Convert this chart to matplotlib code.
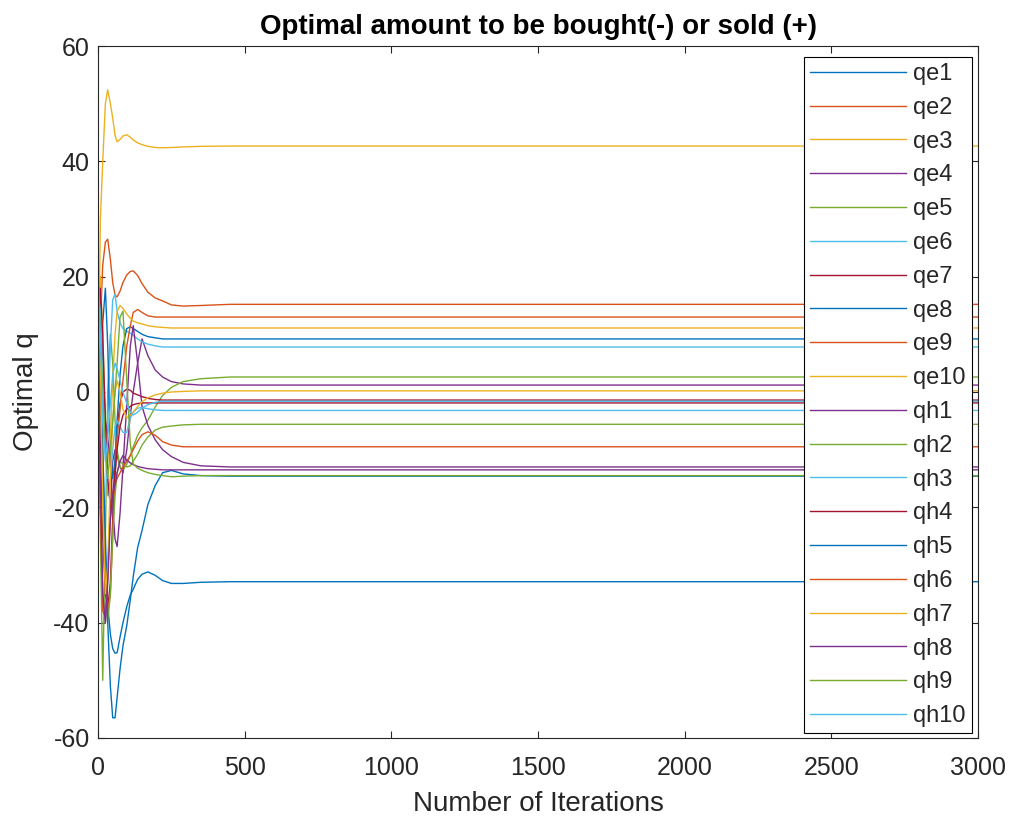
import matplotlib
matplotlib.use("Agg")
import matplotlib.pyplot as plt

plt.rcParams['font.family'] = ['Liberation Sans', 'DejaVu Sans']
plt.rcParams['axes.unicode_minus'] = False

iterations = [0, 8, 16, 25, 33, 42, 50, 58, 65, 75, 85, 98, 110, 120,
              135, 150, 170, 195, 220, 250, 290, 350, 450, 3000]

qe1 = [15, 0, -15, -28, -37, -42, -44.5, -45.3, -45.2, -42.5, -40, -37.2, -35.2, -34.2,
       -32.5, -31.6, -31.2, -31.8, -32.7, -33.2, -33.2, -33.0, -32.9, -32.9]
qe2 = [0, 12, 22, 26, 26.5, 23, 19, 16.8, 16.5, 17.5, 19, 20.3, 20.9, 21,
       20.2, 18.8, 17.3, 16.3, 15.8, 15.1, 14.9, 15.0, 15.2, 15.2]
qe3 = [-1, 30, 40, 50, 52.4, 50, 47.5, 44.5, 43.4, 43.8, 44.4, 44.6, 44.2, 43.7,
       43.2, 42.9, 42.6, 42.4, 42.35, 42.4, 42.5, 42.6, 42.65, 42.65]
qe4 = [-5, -20, -35, -40, -32, -20, -12, -10, -11, -13, -14, -10, -4, 0,
       5, 9.2, 6.3, 3.8, 2.6, 1.8, 1.4, 1.2, 1.2, 1.2]
qe5 = [15, -25, -50, -25, 0, 10, 5, -5, -10, -13, -13.5, -12.5, -11, -9.5,
       -7.5, -6.2, -4.9, -2.6, -0.6, 0.8, 1.8, 2.3, 2.6, 2.6]
qe6 = [20, 18, 5, -8, -5, 8, 16, 17, 14, 12, 11, 10.5, 10.2, 9.8,
       9.2, 8.7, 8.3, 8.0, 7.8, 7.8, 7.8, 7.8, 7.8, 7.8]
qe7 = [5, -10, -25, -35, -37.5, -33, -22, -12, -6, -2, 0, 0.5, 0.3, -0.2,
       -0.5, -0.8, -1.1, -1.3, -1.4, -1.4, -1.4, -1.4, -1.4, -1.4]
qe8 = [20, -5, 12, 18, 8, -10, -15, -12, -5, 3, 8, 11, 11.3, 11,
       10.5, 10, 9.6, 9.4, 9.2, 9.2, 9.2, 9.2, 9.2, 9.2]
qe9 = [10, 0, -15, -30, -38, -35, -25, -15, -8, -3, 2, 8, 11.5, 13.8,
       14.3, 13.8, 13.2, 13.0, 13.0, 13.0, 13.0, 13.0, 13.0, 13.0]
qe10 = [15, 20, 10, -5, -12, -8, 2, 10, 14, 15, 14.5, 13.5, 12.8, 12.3,
        12, 11.8, 11.5, 11.3, 11.2, 11.1, 11.1, 11.1, 11.1, 11.1]
qh1 = [10, 15, 5, -5, -8, -12, -20, -25.5, -26.8, -21, -13, -2, 8, 11.5,
       5, -2.5, -5.8, -8.3, -10, -11.2, -12.2, -12.8, -13.0, -13.0]
qh2 = [20, 10, -10, -30, -40, -35, -25, -18, -14, -12, -12.5, -13, -12.8, -12,
       -10.8, -9.2, -7.8, -6.6, -6.1, -5.9, -5.7, -5.6, -5.6, -5.6]
qh3 = [20, 15, 2, -10, -18, -15, -10, -6, -5, -6, -7, -7, -4.5, -3.5,
       -2.8, -2.7, -2.9, -3.1, -3.2, -3.2, -3.2, -3.2, -3.2, -3.2]
qh4 = [10, 18, 10, -5, -15, -20, -18, -14, -10, -6, -4, -3, -2.5, -2.2,
       -2, -1.9, -1.9, -1.9, -1.9, -1.9, -1.9, -1.9, -1.9, -1.9]
qh5 = [18, 5, -10, -25, -40, -51, -56.5, -56.5, -53, -48, -44, -40.5, -36, -32,
       -27, -24, -19.5, -16.2, -14, -13.6, -14.2, -14.5, -14.6, -14.6]
qh6 = [0, -20, -38, -39, -30, -22, -18, -16, -15, -14, -13, -12, -11, -10,
       -8.5, -7.4, -6.9, -7.5, -8.6, -9.2, -9.5, -9.5, -9.5, -9.5]
qh7 = [20, 5, -20, -35, -30, -15, -5, 0, 2, 0, -3, -4.5, -4, -3.5,
       -2.5, -1.7, -1, -0.5, -0.2, 0, 0.1, 0.2, 0.2, 0.2]
qh8 = [5, -15, -35, -40, -33, -22, -18, -16, -14, -12, -11, -11.8, -12.3, -12.6,
       -12.9, -13.1, -13.3, -13.4, -13.5, -13.5, -13.5, -13.5, -13.5, -13.5]
qh9 = [20, 10, 0, -10, -15, -10, -5, 0, 5, 13, 14, 2, -9, -12.5,
       -13.2, -13.6, -14, -14.3, -14.5, -14.7, -14.6, -14.5, -14.5, -14.5]
qh10 = [20, 10, -5, -12, -8, -2, 3, 5, 4, 2, 0, -2, -3.5, -4,
        -3.5, -2.8, -2.2, -1.8, -1.6, -1.6, -1.6, -1.6, -1.6, -1.6]

labels = ['qe1', 'qe2', 'qe3', 'qe4', 'qe5', 'qe6', 'qe7', 'qe8', 'qe9', 'qe10',
          'qh1', 'qh2', 'qh3', 'qh4', 'qh5', 'qh6', 'qh7', 'qh8', 'qh9', 'qh10']
series = [qe1, qe2, qe3, qe4, qe5, qe6, qe7, qe8, qe9, qe10,
          qh1, qh2, qh3, qh4, qh5, qh6, qh7, qh8, qh9, qh10]

# matlab default line colours
colors = ['#0072BD', '#D95319', '#EDB120', '#7E2F8E', '#77AC30', '#4DBEEE', '#A2142F']

fig = plt.figure(figsize=(10.15, 8.23), dpi=100)
ax = fig.add_axes([0.0966, 0.1033, 0.8669, 0.8408])

for i, (lab, vals) in enumerate(zip(labels, series)):
    ax.plot(iterations, vals, color=colors[i % 7], linewidth=1.0, label=lab)

ax.set_xlim(0, 3000)
ax.set_ylim(-60, 60)
ax.set_xticks(range(0, 3001, 500))
ax.set_yticks(range(-60, 61, 20))

text_col = '#262626'
ax.tick_params(direction='in', top=True, right=True, length=5, width=0.8,
               colors=text_col, labelsize=18)
ax.tick_params(axis='x', pad=13)
ax.tick_params(axis='y', pad=6)
for sp in ax.spines.values():
    sp.set_color(text_col)
    sp.set_linewidth(0.8)

ax.set_xlabel('Number of Iterations', fontsize=20, color=text_col, labelpad=8)
ax.set_ylabel('Optimal q', fontsize=20, color=text_col, labelpad=10)
ax.set_title('Optimal amount to be bought(-) or sold (+)', fontsize=20,
             fontweight='bold', color='black', pad=9)

leg = ax.legend(loc='upper right', bbox_to_anchor=(0.993, 0.984), borderaxespad=0,
                fontsize=17, handlelength=4.1, handletextpad=0.3, labelspacing=0.5,
                borderpad=0.25, fancybox=False, framealpha=1)
leg.get_frame().set_edgecolor('black')
leg.get_frame().set_linewidth(0.8)
for t in leg.get_texts():
    t.set_color(text_col)

fig.savefig('out.png', dpi=100)
